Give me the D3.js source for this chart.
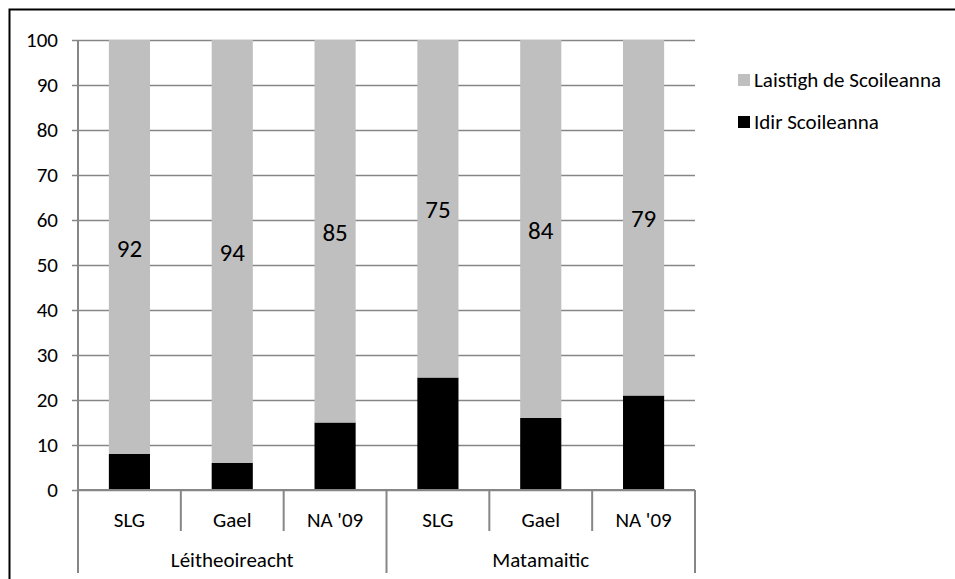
<!DOCTYPE html>
<html>
<head>
<meta charset="utf-8">
<script src="https://cdn.jsdelivr.net/npm/d3@7"></script>
<style>
  body { margin: 0; background: #fff; }
  svg { font-family: Carlito, Calibri, "Open Sans", sans-serif; }
</style>
</head>
<body>
<svg width="955" height="579"></svg>
<script>
// data
var groups = ["Léitheoireacht", "Matamaitic"];
var subcats = ["SLG", "Gael", "NA '09"];
var laistigh = [92, 94, 85, 75, 84, 79];   // grey, top
var idir = [8, 6, 15, 25, 16, 21];          // black, bottom
var seriesNames = ["Laistigh de Scoileanna", "Idir Scoileanna"];
var seriesColors = ["#bfbfbf", "#000000"];
var yTicks = [0, 10, 20, 30, 40, 50, 60, 70, 80, 90, 100];

var svg = d3.select("svg"),
    margin = {top: 40, right: 260, bottom: 89, left: 78},
    width = +svg.attr("width") - margin.left - margin.right,
    height = +svg.attr("height") - margin.top - margin.bottom;

var fontSize = 21;

// outer border (runs off the right and bottom edge)
svg.append("rect")
    .attr("x", 9.5).attr("y", 9.5)
    .attr("width", 960).attr("height", 600)
    .attr("fill", "none").attr("stroke", "#000").attr("stroke-width", 2);

var rows = [];
groups.forEach(function(g, gi) {
  subcats.forEach(function(s, si) {
    var i = gi * subcats.length + si;
    rows.push({key: g + "|" + s, group: g, sub: s, idir: idir[i], laistigh: laistigh[i]});
  });
});

var x = d3.scaleBand()
    .domain(rows.map(function(d) { return d.key; }))
    .range([0, width])
    .paddingInner(0.6)
    .paddingOuter(0.3);

var y = d3.scaleLinear().domain([0, 100]).range([height, 0]);

var g = svg.append("g")
    .attr("transform", "translate(" + margin.left + "," + margin.top + ")");

var axisColor = "#868686";

// gridlines + y axis
g.append("g")
    .attr("class", "grid")
    .call(d3.axisLeft(y).tickValues(yTicks).tickSize(-width).tickSizeOuter(0).tickPadding(20))
    .call(function(a) {
      a.select(".domain").remove();
      a.selectAll(".tick line").attr("stroke", axisColor).attr("stroke-width", 1.5).attr("x1", -6);
      a.selectAll(".tick text").attr("font-size", fontSize).attr("fill", "#000")
        .style("font-family", "Carlito, Calibri, 'Open Sans', sans-serif");
    });

g.append("line")
    .attr("x1", 0).attr("x2", 0).attr("y1", 0).attr("y2", height + 83)
    .attr("stroke", axisColor).attr("stroke-width", 2);

// stacked bars
var stack = d3.stack().keys(["idir", "laistigh"]);
var layers = stack(rows);

g.selectAll(".layer")
  .data(layers)
  .enter().append("g")
    .attr("class", "layer")
    .attr("fill", function(d, i) { return seriesColors[1 - i]; })
  .selectAll("rect")
  .data(function(d) { return d; })
  .enter().append("rect")
    .attr("x", function(d) { return x(d.data.key); })
    .attr("y", function(d) { return y(d[1]); })
    .attr("width", x.bandwidth())
    .attr("height", function(d) { return y(d[0]) - y(d[1]); });

// value labels on grey segments
g.selectAll(".vlabel")
  .data(layers[1])
  .enter().append("text")
    .attr("class", "vlabel")
    .attr("x", function(d) { return x(d.data.key) + x.bandwidth() / 2; })
    .attr("y", function(d) { return y((d[0] + d[1]) / 2); })
    .attr("dy", "0.38em")
    .attr("text-anchor", "middle")
    .attr("font-size", 25)
    .text(function(d) { return d.data.laistigh; });

// baseline (x axis)
g.append("line")
    .attr("x1", 0).attr("x2", width).attr("y1", y(0)).attr("y2", y(0))
    .attr("stroke", axisColor).attr("stroke-width", 2);

// category dividers and labels
var step = x.step();
rows.forEach(function(d, i) {
  var left = x(d.key) - step * x.paddingInner() / 2;
  var right = left + step;
  var isGroupEdge = (i + 1) % subcats.length === 0;
  g.append("line")
      .attr("x1", right).attr("x2", right)
      .attr("y1", height).attr("y2", height + (isGroupEdge ? 83 : 41))
      .attr("stroke", axisColor).attr("stroke-width", 2);
  g.append("text")
      .attr("x", x(d.key) + x.bandwidth() / 2)
      .attr("y", height + 30)
      .attr("dy", "0.35em")
      .attr("text-anchor", "middle")
      .attr("font-size", fontSize)
      .text(d.sub);
});

var groupWidth = width / groups.length;
groups.forEach(function(name, i) {
  g.append("text")
      .attr("x", groupWidth * (i + 0.5))
      .attr("y", height + 70)
      .attr("dy", "0.35em")
      .attr("text-anchor", "middle")
      .attr("font-size", fontSize)
      .text(name);
});

// legend
var legend = svg.append("g")
    .attr("transform", "translate(738,74)");

seriesNames.forEach(function(name, i) {
  var row = legend.append("g").attr("transform", "translate(0," + (i * 42) + ")");
  row.append("rect")
      .attr("width", 12).attr("height", 12)
      .attr("fill", seriesColors[i]);
  row.append("text")
      .attr("x", 16).attr("y", 6)
      .attr("dy", "0.35em")
      .attr("font-size", fontSize)
      .text(name);
});
</script>
</body>
</html>
